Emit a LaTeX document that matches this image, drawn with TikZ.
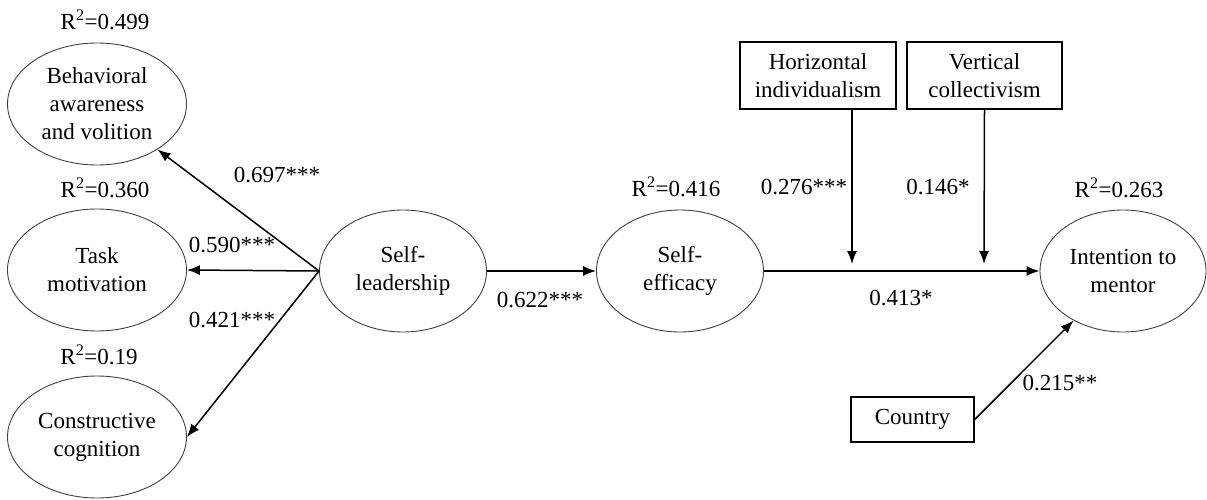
\documentclass[tikz,border=0pt]{standalone}
\usepackage{fontspec}
\setmainfont{Liberation Serif}
\usetikzlibrary{arrows.meta,positioning,shapes.geometric}

\begin{document}
\begin{tikzpicture}[x=1pt,y=-1pt,
  font=\fontsize{23}{28}\selectfont,
  latent/.style={ellipse,draw=black!75,line width=0.9pt,minimum width=179pt,minimum height=122pt,inner sep=0pt,align=center},
  observed/.style={rectangle,draw,line width=1.5pt,inner sep=0pt,align=center},
  arr/.style={line width=1.5pt,-{Latex[length=13pt,width=10pt]}},
  coef/.style={inner sep=0pt}]
  \useasboundingbox (0,0) rectangle (1207,500);

  % latent variables
  \node[latent] (beh) at (97,104) {Behavioral\\awareness\\and volition};
  \node[latent] (task) at (97,270) {Task\\motivation};
  \node[latent] (cons) at (97,437) {Constructive\\cognition};
  \node[latent,minimum width=167pt] (lead) at (403,271) {Self-\\leadership};
  \node[latent,minimum width=167pt] (eff) at (680,271) {Self-\\efficacy};
  \node[latent,minimum width=166pt] (inten) at (1123,271) {Intention to\\mentor};

  % moderators and control
  \node[observed,minimum width=156pt,minimum height=67pt] (hind) at (818,75.5) {Horizontal\\individualism};
  \node[observed,minimum width=155pt,minimum height=67pt] (vcol) at (984.5,75.5) {Vertical\\collectivism};
  \node[observed,minimum width=123pt,minimum height=45pt] (country) at (912.5,419.5) {Country};

  \coordinate (h1) at (852,109);
  \coordinate (m1) at (852,264);
  \coordinate (m2) at (984,264);

  % paths
  \draw[arr] (lead.west) -- (beh);
  \draw[arr] (lead.west) -- (task.east);
  \draw[arr] (lead.west) -- (cons.east);
  \draw[arr] (lead.east) -- (eff.west);
  \draw[arr] (eff.east) -- (inten.west);
  \draw[arr] (h1) -- (m1);
  \draw[arr] (vcol.south) -- (m2);
  \draw[arr] (country.east) -- (inten);

  % R squared
  \node[coef] (rbeh) at (105,20) {R\textsuperscript{2}=0.499};
  \node[coef] (rtask) at (105,188) {R\textsuperscript{2}=0.360};
  \node[coef] (rcons) at (99,355) {R\textsuperscript{2}=0.19};
  \node[coef] (reff) at (676,187) {R\textsuperscript{2}=0.416};
  \node[coef] (rint) at (1119,188) {R\textsuperscript{2}=0.263};

  % path coefficients
  \node[coef] (c697) at (277,175) {0.697***};
  \node[coef] (c590) at (232,245) {0.590***};
  \node[coef] (c421) at (232,320) {0.421***};
  \node[coef] (c622) at (540,300) {0.622***};
  \node[coef] (c276) at (804,187) {0.276***};
  \node[coef] (c146) at (938,187) {0.146*};
  \node[coef] (c413) at (901,298) {0.413*};
  \node[coef] (c215) at (1060,383) {0.215**};
\end{tikzpicture}
\end{document}
